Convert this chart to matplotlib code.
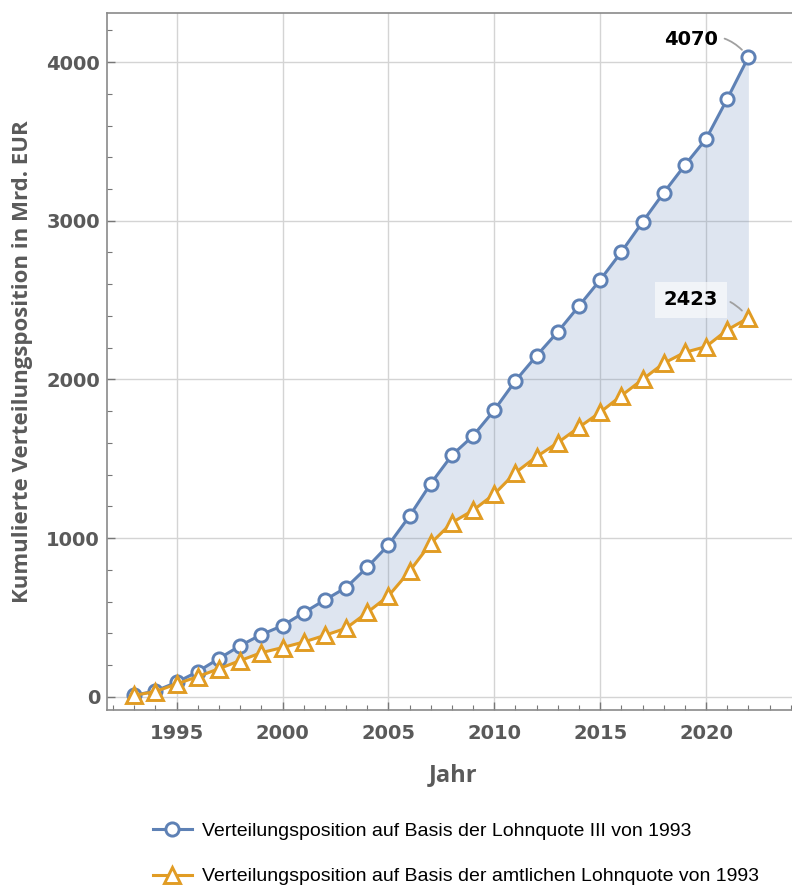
"""
Kumulierte Verteilungsposition 1993-2022 (Lohnquote III vs. amtliche Lohnquote)
"""

import matplotlib.pyplot as plt
import numpy as np
from matplotlib.ticker import MultipleLocator

# Data (Mrd. EUR)
years = np.arange(1993, 2023)

lohnquote_iii = [10, 38, 92, 160, 242, 323, 393, 449, 531, 611,
                 689, 817, 957, 1140, 1344, 1523, 1645, 1807, 1992, 2150,
                 2300, 2463, 2627, 2803, 2992, 3176, 3350, 3515, 3767, 4031]

amtliche_lq = [10, 34, 82, 128, 178, 229, 279, 311, 346, 388,
               433, 532, 636, 792, 968, 1098, 1176, 1278, 1413, 1514,
               1602, 1699, 1793, 1898, 2000, 2102, 2171, 2207, 2312, 2388]

end_labels = ['4070', '2423']

label_iii = 'Verteilungsposition auf Basis der Lohnquote III von 1993'
label_amtl = 'Verteilungsposition auf Basis der amtlichen Lohnquote von 1993'

# Colors (Mathematica default palette)
BLUE = '#5E81B5'
ORANGE = '#E19C24'
GRAY_TXT = '#5a5a5a'

fig = plt.figure(figsize=(7.92, 8.88), dpi=100)
ax = fig.add_axes([0.1351, 0.2005, 0.8649, 0.7849])

# Filling between the two series
ax.fill_between(years, amtliche_lq, lohnquote_iii, color=BLUE, alpha=0.2,
                linewidth=0, zorder=1)

ax.plot(years, lohnquote_iii, color=BLUE, lw=2.2, marker='o', markersize=9.5,
        markerfacecolor='white', markeredgecolor=BLUE, markeredgewidth=2.1,
        label=label_iii, zorder=3)
ax.plot(years, amtliche_lq, color=ORANGE, lw=2.2, marker='^', markersize=11,
        markerfacecolor='white', markeredgecolor=ORANGE, markeredgewidth=2.1,
        label=label_amtl, zorder=3)

# End labels with small curved leader lines
ax.annotate(end_labels[0], xy=(years[-1], lohnquote_iii[-1]),
            xytext=(-22, 13), textcoords='offset points', ha='right', va='center',
            fontsize=14, fontweight='bold', color='black',
            arrowprops=dict(arrowstyle='-', color='#a0a0a0', lw=1.3,
                            shrinkA=3, shrinkB=7,
                            connectionstyle='arc3,rad=-0.35'))
ax.annotate(end_labels[1], xy=(years[-1], amtliche_lq[-1]),
            xytext=(-22, 13), textcoords='offset points', ha='right', va='center',
            fontsize=14, fontweight='bold', color='black',
            bbox=dict(boxstyle='square,pad=0.45', facecolor='white', alpha=0.6,
                      edgecolor='none'),
            arrowprops=dict(arrowstyle='-', color='#a0a0a0', lw=1.3,
                            shrinkA=3, shrinkB=7,
                            connectionstyle='arc3,rad=-0.35'))

# Axes limits and ticks
ax.set_xlim(1991.71, 2024.06)
ax.set_ylim(-82, 4309)
ax.xaxis.set_major_locator(MultipleLocator(5))
ax.xaxis.set_minor_locator(MultipleLocator(1))
ax.yaxis.set_major_locator(MultipleLocator(1000))
ax.yaxis.set_minor_locator(MultipleLocator(200))
ax.tick_params(which='major', direction='in', length=6, width=1, color='#777777',
               labelsize=14, labelcolor=GRAY_TXT)
ax.tick_params(axis='y', which='major', pad=5)
ax.tick_params(axis='x', which='major', pad=10)
ax.tick_params(which='minor', direction='in', length=3.5, width=0.8, color='#777777')
for lbl in ax.get_xticklabels() + ax.get_yticklabels():
    lbl.set_fontweight('bold')

ax.grid(True, which='major', color='#d4d4d4', lw=1, zorder=0)
ax.set_axisbelow(True)

for side in ['left', 'top', 'bottom']:
    ax.spines[side].set_color('#8a8a8a')
    ax.spines[side].set_linewidth(1.2)
ax.spines['right'].set_visible(False)

ax.set_xlabel('Jahr', fontsize=17, fontweight='bold', color=GRAY_TXT,
              family='Open Sans')
ax.xaxis.set_label_coords(0.505, -0.076)
ax.set_ylabel('Kumulierte Verteilungsposition in Mrd. EUR', fontsize=16,
              fontweight='bold', color=GRAY_TXT, family='Open Sans')
ax.yaxis.set_label_coords(-0.108, 0.5)

# Legend below the plot
fig.legend(loc='upper left', bbox_to_anchor=(0.183, 0.083), frameon=False,
           prop={'family': 'Liberation Sans', 'size': 14},
           handlelength=2.0, handletextpad=0.55, labelspacing=1.45,
           borderaxespad=0)

plt.savefig('out.png', dpi=100)
plt.close()
